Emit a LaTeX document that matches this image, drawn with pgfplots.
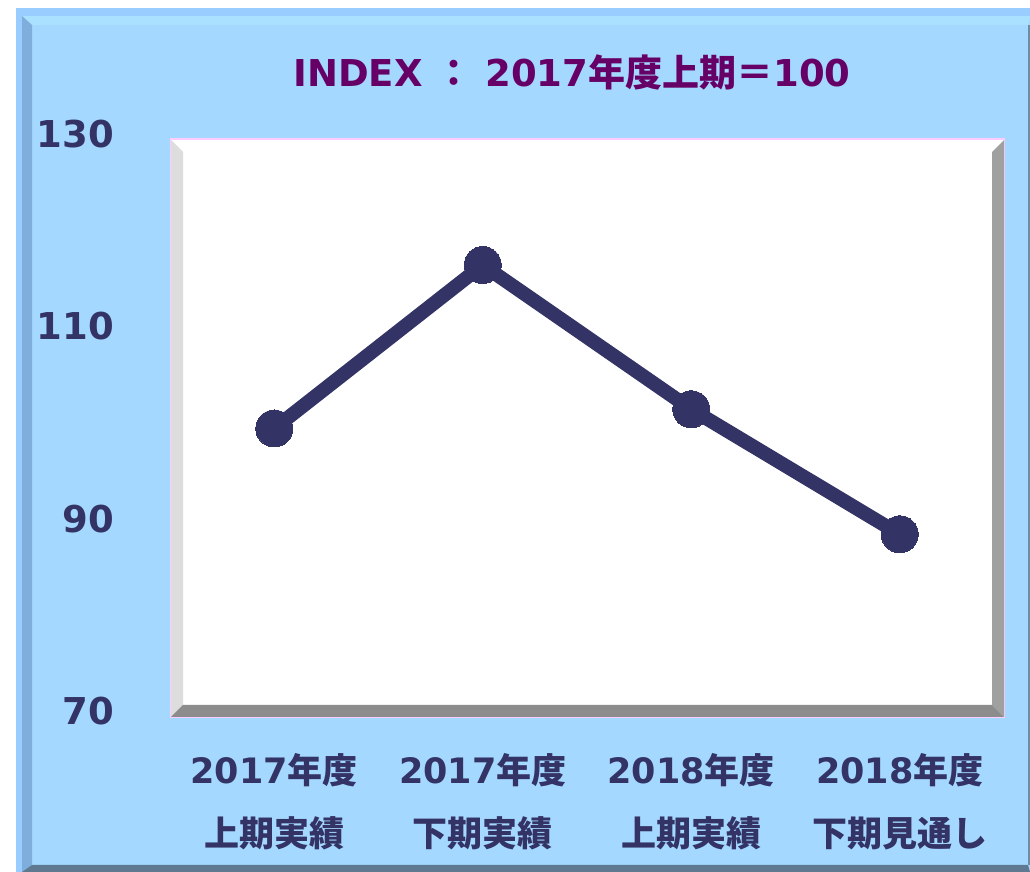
\documentclass[border=0pt]{standalone}
\usepackage{pgfplots}
\pgfplotsset{compat=1.18}
\usepackage{fontspec}
\setmainfont{DejaVu Sans}
\newfontfamily\jp{Noto Sans CJK JP}
\definecolor{navy}{HTML}{333366}
\definecolor{ttl}{HTML}{660066}
\definecolor{bgmain}{HTML}{A4D8FF}
\definecolor{bgtop}{HTML}{A9E1FF}
\definecolor{bgout}{HTML}{99CCFF}
\definecolor{bgleft}{HTML}{80AEDC}
\definecolor{bgbot}{HTML}{5F7A90}
\definecolor{pinkb}{HTML}{FFCCFF}
\definecolor{bevl}{HTML}{DDDDDD}
\definecolor{bevr}{HTML}{A0A0A0}
\definecolor{bevb}{HTML}{8C8C8C}
\begin{document}
\begin{tikzpicture}
% page
\fill[white] (0pt,0pt) rectangle (1030pt,872pt);
% outer frame
\fill[bgout] (16pt,0pt) rectangle (1030pt,864pt);
\fill[bgmain] (22pt,0pt) rectangle (1030pt,856pt);
\fill[bgtop] (22pt,856pt) -- (1030pt,856pt) -- (1028pt,847pt) -- (32pt,847pt) -- cycle;
\fill[bgleft] (22pt,856pt) -- (32pt,847pt) -- (32pt,7pt) -- (22pt,0pt) -- cycle;
\fill[bgbot] (22pt,0pt) -- (32pt,7pt) -- (1028pt,7pt) -- (1030pt,0pt) -- cycle;
\fill[bgbot!80!bgmain] (1028pt,7pt) rectangle (1030pt,847pt);
% plot frame
\fill[pinkb] (169.5pt,153.5pt) rectangle (1005pt,733.5pt);
\fill[white] (171pt,155pt) rectangle (1004pt,732pt);
\fill[bevl] (171pt,732pt) -- (183pt,720pt) -- (183pt,167pt) -- (171pt,155pt) -- cycle;
\fill[bevr] (1004pt,732pt) -- (992pt,720pt) -- (992pt,167pt) -- (1004pt,155pt) -- cycle;
\fill[bevb] (171pt,155pt) -- (183pt,167pt) -- (992pt,167pt) -- (1004pt,155pt) -- cycle;
% title
\node[anchor=base, inner sep=0, text=ttl, font=\fontsize{37}{44}\selectfont\bfseries] at (572pt,785pt)
  {INDEX {\jp ：} 2017{\jp 年度上期＝}100};
\begin{axis}[
  at={(170pt,155pt)}, anchor=south west,
  scale only axis, width=834pt, height=577pt,
  xmin=-0.5, xmax=3.5, ymin=70, ymax=130,
  xtick={0,1,2,3}, ytick={70,90,110,130},
  xticklabels={
    {2017{\jp 年度}\\{\jp 上期実績}},
    {2017{\jp 年度}\\{\jp 下期実績}},
    {2018{\jp 年度}\\{\jp 上期実績}},
    {2018{\jp 年度}\\{\jp 下期見通し}}},
  axis line style={draw=none},
  major tick length=0pt,
  tick style={draw=none},
  clip=false,
  /pgf/number format/assume math mode=true,
  yticklabel style={anchor=east, inner sep=0pt, xshift=-56pt, yshift=6pt,
    text=navy, font=\fontsize{37}{44}\selectfont\bfseries},
  xticklabel style={anchor=north, inner sep=0pt, yshift=-36pt, align=center,
    text=navy, font=\fontsize{35}{63}\selectfont\bfseries},
]
\addplot[color=navy, line width=14pt, mark=*, mark size=18.5pt,
  mark options={fill=navy, draw=navy, line width=0pt}]
  coordinates {(0,100) (1,117) (2,102) (3,89)};
\end{axis}
\end{tikzpicture}
\end{document}
